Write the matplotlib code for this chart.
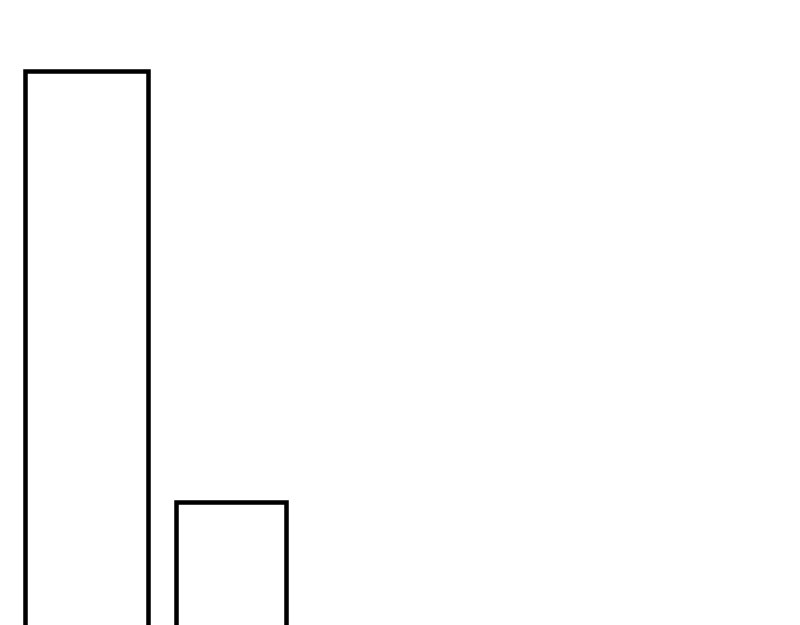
import matplotlib
matplotlib.use('Agg')
import matplotlib.pyplot as plt

# data
categories = ['A', 'B']
values = [100, 25.6]

fig = plt.figure(figsize=(8, 6.25), dpi=100)
ax = fig.add_axes([0, 0, 1, 1])

x = list(range(len(categories)))
ax.bar(x, values, width=[0.849, 0.763], color='white', edgecolor='black', linewidth=3.25)

# baseline sits below the bottom edge, so the bars are cut off
ax.set_xlim(-0.601, 4.945)
ax.set_ylim(4.31, 112.2)
ax.axis('off')

fig.savefig('out.png', dpi=100)
